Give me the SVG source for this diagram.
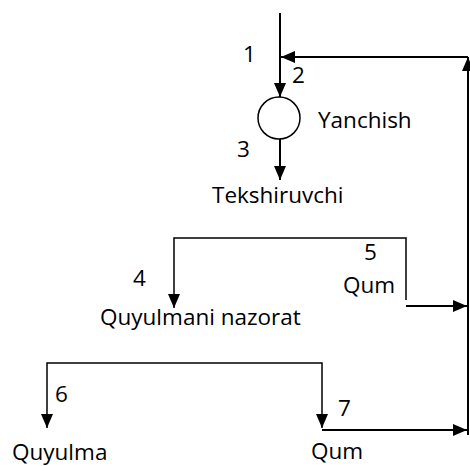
<svg xmlns="http://www.w3.org/2000/svg" width="470" height="466" viewBox="0 0 470 466">
<style>
.t{font-family:"Open Sans","Liberation Sans",sans-serif;font-size:22.5px;fill:#000}
.c{fill:none;stroke:#000;stroke-width:2}
.b{fill:none;stroke:#000;stroke-width:1.5}
</style>
<defs>
<marker id="ah" markerUnits="userSpaceOnUse" markerWidth="14" markerHeight="12" refX="14" refY="6" orient="auto">
<path d="M0,0 L14,6 L0,12 z" fill="#000"/>
</marker>
</defs>
<rect width="470" height="466" fill="#fff"/>
<g id="connectors">
<path class="c" d="M280,13 V97" marker-end="url(#ah)"/>
<path class="c" d="M468,435 V57" marker-end="url(#ah)"/>
<path class="c" d="M468,57 H281" marker-end="url(#ah)"/>
<path class="c" d="M280,139 V180" marker-end="url(#ah)"/>
<path class="b" d="M406,300 V238 H174 V308" marker-end="url(#ah)"/>
<path class="c" d="M406,306 H467" marker-end="url(#ah)"/>
<path class="b" d="M185,363 H47 V428" marker-end="url(#ah)"/>
<path class="b" d="M185,363 H322 V428" marker-end="url(#ah)"/>
<path class="c" d="M322,430 H467" marker-end="url(#ah)"/>
</g>
<g id="yanchish">
<circle cx="279" cy="118" r="21" class="b" fill="#fff"/>
<text class="t" x="318" y="128">Yanchish</text>
</g>
<g id="labels">
<text class="t" x="243" y="62">1</text>
<text class="t" x="292" y="83">2</text>
<text class="t" x="237" y="157">3</text>
<text class="t" x="133" y="286">4</text>
<text class="t" x="364" y="260">5</text>
<text class="t" x="55" y="402">6</text>
<text class="t" x="338" y="416">7</text>
</g>
<g id="tekshiruvchi"><text class="t" x="212" y="203">Tekshiruvchi</text></g>
<g id="qum1"><text class="t" x="343" y="293">Qum</text></g>
<g id="quyulmani-nazorat"><text class="t" x="100" y="325">Quyulmani nazorat</text></g>
<g id="quyulma"><text class="t" x="12" y="460">Quyulma</text></g>
<g id="qum2"><text class="t" x="311" y="459">Qum</text></g>
</svg>
